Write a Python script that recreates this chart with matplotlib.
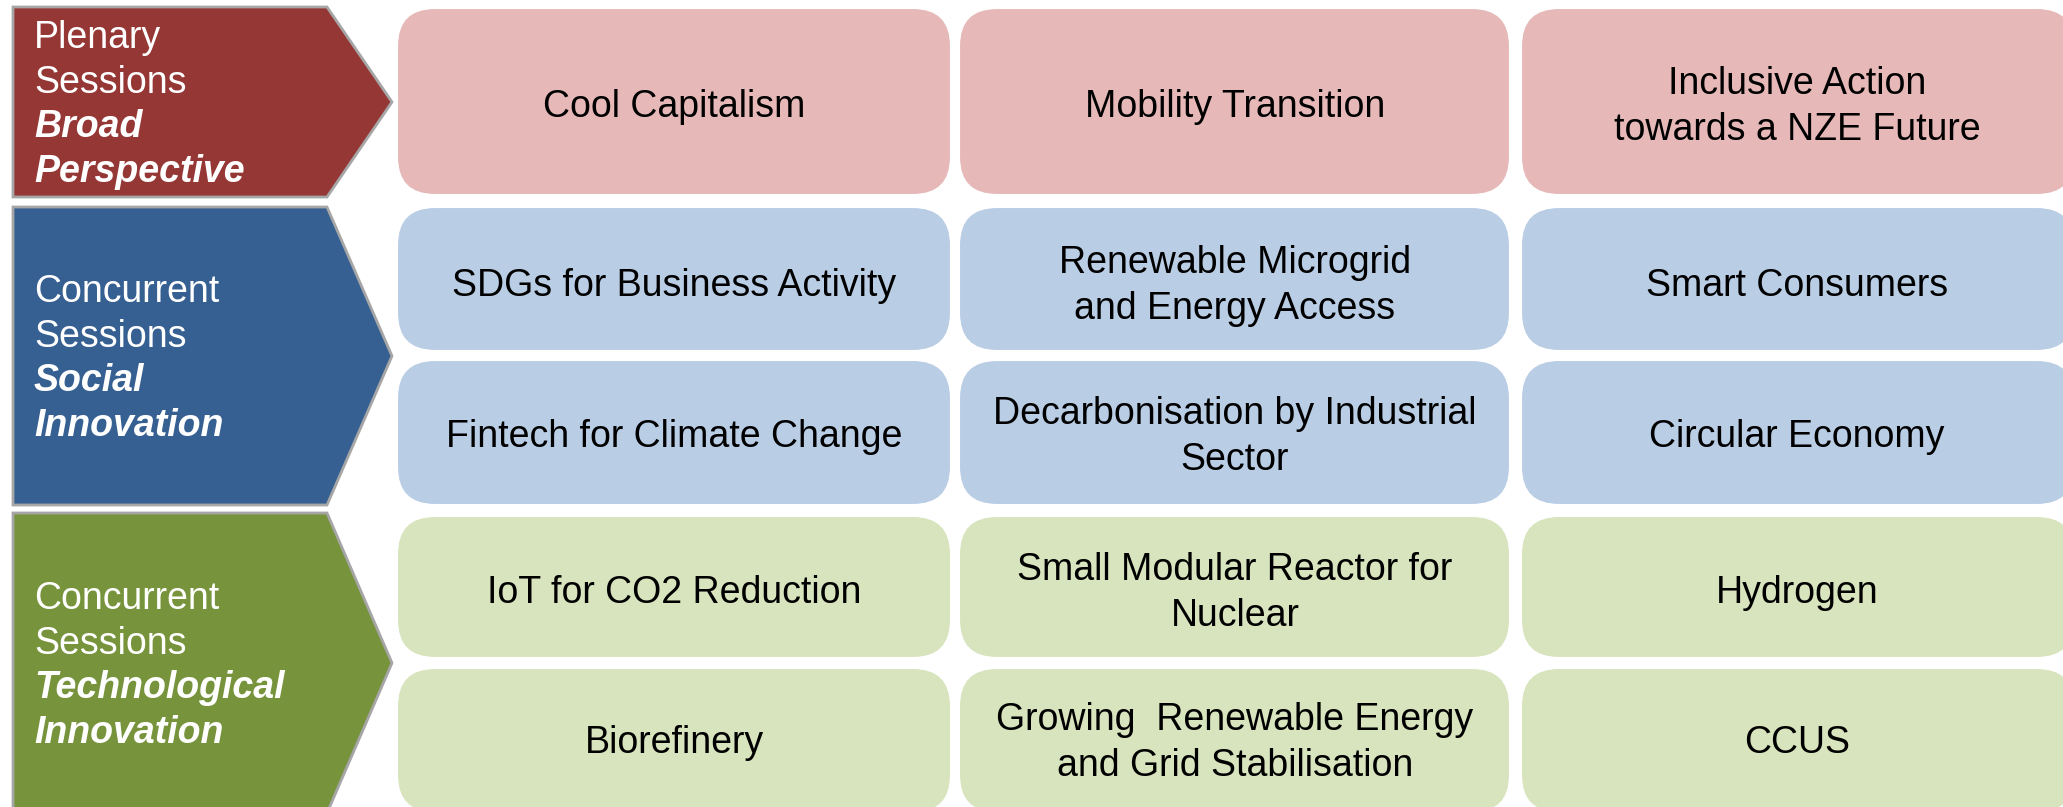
import matplotlib
matplotlib.use("Agg")
import matplotlib.pyplot as plt
from matplotlib.patches import FancyBboxPatch, Polygon

plt.rcParams["font.family"] = ["Liberation Sans", "DejaVu Sans"]

# session groups (left arrows)
group_plain = [["Plenary", "Sessions"], ["Concurrent", "Sessions"], ["Concurrent", "Sessions"]]
group_bold = [["Broad", "Perspective"], ["Social", "Innovation"], ["Technological", "Innovation"]]
group_colors = ["#953735", "#366092", "#77933c"]
box_colors = ["#e6b9b8", "#b9cde5", "#d7e4bd"]

# session titles, one list per row
row_group = [0, 1, 1, 2, 2]
sessions = [
    ["Cool Capitalism", "Mobility Transition", "Inclusive Action\ntowards a NZE Future"],
    ["SDGs for Business Activity", "Renewable Microgrid\nand Energy Access", "Smart Consumers"],
    ["Fintech for Climate Change", "Decarbonisation by Industrial\nSector", "Circular Economy"],
    ["IoT for CO2 Reduction", "Small Modular Reactor for\nNuclear", "Hydrogen"],
    ["Biorefinery", "Growing  Renewable Energy\nand Grid Stabilisation", "CCUS"],
]

# layout in pixels
W, H = 2063, 807
row_top = [8, 207, 360, 516, 668]
row_bot = [195, 351, 505, 658, 813]
text_mid = [104, 283, 434, 590, 740]
col_left = [397, 959, 1521]
col_right = [951, 1510, 2075]
col_mid = [674, 1235, 1797]
arrow_top = [7, 207, 513]
arrow_bot = [197, 505, 813]
arrow_left = 13
arrow_shoulder = 327
arrow_tip = 392

fs = 27
cap = 13  # half cap height in px

fig = plt.figure(figsize=(W / 100, H / 100), dpi=100)
ax = fig.add_axes([0, 0, 1, 1])
ax.set_xlim(0, W)
ax.set_ylim(H, 0)
ax.axis("off")

# arrows with labels
for g in range(3):
    t, b = arrow_top[g], arrow_bot[g]
    mid = (t + b) / 2
    pts = [(arrow_left, t), (arrow_shoulder, t), (arrow_tip, mid),
           (arrow_shoulder, b), (arrow_left, b)]
    ax.add_patch(Polygon(pts, closed=True, facecolor=group_colors[g],
                         edgecolor="#a6a6a6", linewidth=2, zorder=2))
    lines = [(s, "normal", "normal") for s in group_plain[g]] + \
            [(s, "bold", "italic") for s in group_bold[g]]
    for i, (s, wt, st) in enumerate(lines):
        y = mid + (i - 1.5) * 44.5 + cap
        ax.text(34, y, s, color="white", fontsize=fs, fontweight=wt,
                fontstyle=st, ha="left", va="baseline", zorder=3)

# session boxes
pad = 38
for r, row in enumerate(sessions):
    t, b = row_top[r], row_bot[r]
    for c, label in enumerate(row):
        l, rr = col_left[c], col_right[c]
        box = FancyBboxPatch((l + pad, t + pad), rr - l - 2 * pad, b - t - 2 * pad,
                             boxstyle=f"round,pad={pad}",
                             facecolor=box_colors[row_group[r]],
                             edgecolor="white", linewidth=1.5, zorder=2)
        ax.add_patch(box)
        parts = label.split("\n")
        n = len(parts)
        for k, s in enumerate(parts):
            y = text_mid[r] + (k - (n - 1) / 2) * 46 + cap
            ax.text(col_mid[c], y, s, fontsize=fs, ha="center", va="baseline",
                    color="black", zorder=3)

fig.savefig("out.png", dpi=100)
